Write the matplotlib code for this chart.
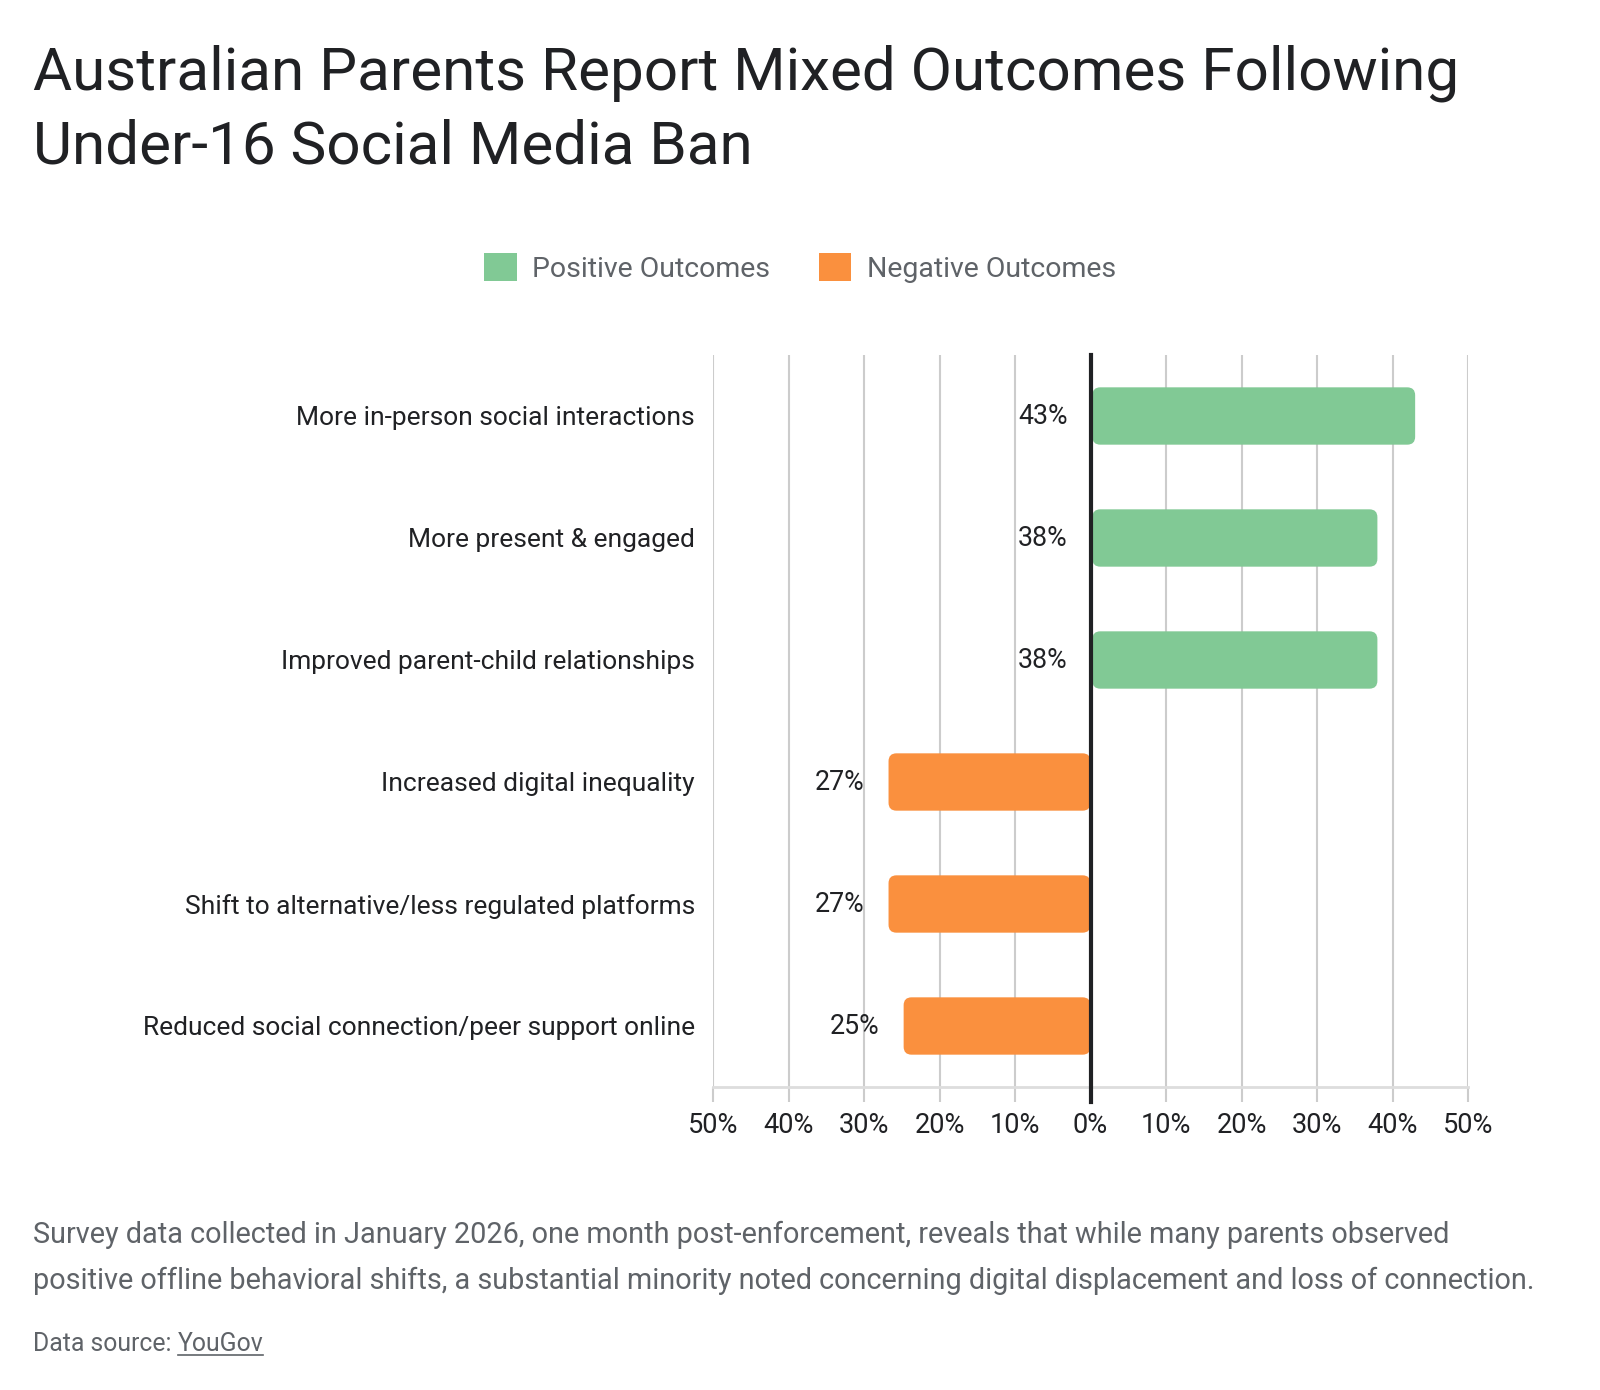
import matplotlib.pyplot as plt
from matplotlib.patches import FancyBboxPatch, Patch
from matplotlib.lines import Line2D
import numpy as np

plt.rcParams.update({
    "font.family": "Roboto",
    "text.color": "#202124",
})

categories = [
    "More in-person social interactions",
    "More present & engaged",
    "Improved parent-child relationships",
    "Increased digital inequality",
    "Shift to alternative/less regulated platforms",
    "Reduced social connection/peer support online",
]
values = [43, 38, 38, -27, -27, -25]
series = ["Positive Outcomes", "Negative Outcomes"]
colors = {"Positive Outcomes": "#81c995", "Negative Outcomes": "#fa903e"}
ticks = [-50, -40, -30, -20, -10, 0, 10, 20, 30, 40, 50]

title_lines = ["Australian Parents Report Mixed Outcomes Following",
               "Under-16 Social Media Ban"]
caption_lines = [
    "Survey data collected in January 2026, one month post-enforcement, reveals that while many parents observed",
    "positive offline behavioral shifts, a substantial minority noted concerning digital displacement and loss of connection.",
]
source_label = "Data source: "
source_name = "YouGov"

W, H = 1600, 1390
fig = plt.figure(figsize=(W / 100, H / 100), dpi=100)
ax = fig.add_axes([713 / W, 1 - 1087 / H, 755 / W, 732 / H])

y = np.arange(len(categories))
bar_colors = [colors[series[0]] if v >= 0 else colors[series[1]] for v in values]
bars = ax.barh(y, values, height=0.47, color=bar_colors)

ax.set_xlim(-50, 50)
ax.set_ylim(len(categories) - 0.5, -0.5)

# swap the plain bars for rounded ones
px_x = 755 / 100.0
px_y = 732 / len(categories)
for b in bars:
    x0, y0 = b.get_x(), b.get_y()
    w, h = b.get_width(), b.get_height()
    if w < 0:
        x0, w = x0 + w, -w
    r = FancyBboxPatch((x0 + 0.25, y0), w - 0.25, h,
                       boxstyle="round,pad=0,rounding_size=1.05",
                       mutation_aspect=px_x / px_y,
                       facecolor=b.get_facecolor(), edgecolor="none", zorder=3)
    ax.add_patch(r)
    b.set_visible(False)

# value labels sit left of each bar's left end
for yi, v in zip(y, values):
    ax.text(min(v, 0) - 3.0, yi, f"{abs(v)}%", ha="right", va="center",
            fontsize=19.3, color="#202124", zorder=4)

ax.set_xticks(ticks)
ax.set_xticklabels([f"{abs(t)}%" for t in ticks], fontsize=19.5, color="#202124")
ax.set_yticks(y)
ax.set_yticklabels(categories, fontsize=19, color="#202124")
ax.tick_params(axis="y", length=0, pad=13)
ax.tick_params(axis="x", length=11, width=1.5, color="#cccccc", pad=7)

for s in ["top", "right", "left"]:
    ax.spines[s].set_visible(False)
ax.spines["bottom"].set_color("#dddddd")
ax.spines["bottom"].set_linewidth(2)

ax.grid(axis="x", color="#cccccc", linewidth=1.5, zorder=0)
ax.set_axisbelow(True)
ax.axvline(0, ymin=-0.02, ymax=1, color="#202124", linewidth=3, zorder=5, clip_on=False)

# legend
handles = [Patch(facecolor=colors[s], edgecolor="none") for s in series]
leg = fig.legend(handles, series, loc="center", bbox_to_anchor=(0.5, 1 - 268 / H),
                 ncol=2, frameon=False, fontsize=20.5, handlelength=1.15, handleheight=1.15,
                 handletextpad=0.55, columnspacing=1.7, labelcolor="#5f6368")

# title
for i, line in enumerate(title_lines):
    fig.text(33 / W, 1 - (89 + 75 * i) / H, line, fontsize=43.3, va="baseline",
             ha="left", color="#202124")

# caption
for i, line in enumerate(caption_lines):
    fig.text(33 / W, 1 - (1235 + 46 * i) / H, line, fontsize=20.8, va="center",
             ha="left", color="#5f6368")

src = fig.text(33 / W, 1 - 1344 / H, source_label, fontsize=17.8, va="center",
               ha="left", color="#5f6368")
fig.canvas.draw()
bb = src.get_window_extent()
name = fig.text(bb.x1 / W, 1 - 1344 / H, source_name, fontsize=17.8, va="center",
                ha="left", color="#5f6368")
fig.canvas.draw()
nb = name.get_window_extent()
fig.add_artist(Line2D([nb.x0 / W, nb.x1 / W], [(nb.y0 + 1) / H] * 2,
                      color="#5f6368", linewidth=1.2))

fig.savefig("out.png", dpi=100, facecolor="white")
